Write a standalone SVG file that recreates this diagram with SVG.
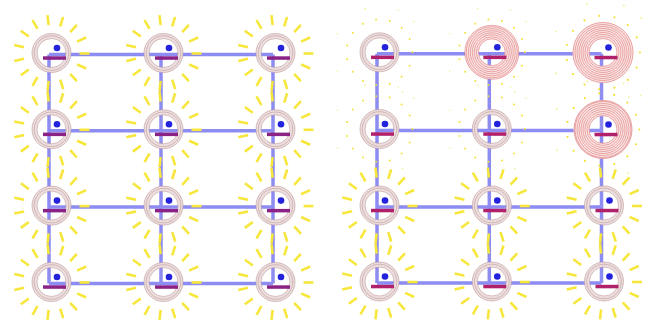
<svg xmlns="http://www.w3.org/2000/svg" xmlns:xlink="http://www.w3.org/1999/xlink" width="655" height="324" viewBox="0 0 655 324">
<style>
.wire{stroke:#1a1ae6;stroke-opacity:0.5;stroke-width:3.5;fill:none;stroke-linecap:butt}
.ray{stroke:#f7e63c;stroke-width:2.6;stroke-linecap:butt}
.spark{fill:#f2e23a}
.hb{fill:none;stroke:#ecdede;stroke-width:5}
.hl{fill:none;stroke:#bf9999;stroke-width:0.8;stroke-opacity:0.75}
.rb{fill:none;stroke:#fae4e4}
.rl{fill:none;stroke:#d85c5c;stroke-width:0.6;stroke-opacity:0.8}
.barL{fill:#8b2387}
.barR{fill:#b0206b}
.dot{fill:#2323dd}
</style>
<defs>
<g id="halo">
<circle class="hb" r="17"/>
<circle class="hl" r="14.5"/>
<circle class="hl" r="17.3"/>
<circle class="hl" r="19.5"/>
</g>
<g id="rays">
<line class="ray" x1="28" y1="0.5" x2="38" y2="0.5"/>
<line class="ray" x1="25.6" y1="11.4" x2="34.7" y2="15.5"/>
<line class="ray" x1="18.7" y1="20.8" x2="25.4" y2="28.2"/>
<line class="ray" x1="8.7" y1="26.6" x2="11.7" y2="36.1"/>
<line class="ray" x1="-2.9" y1="27.8" x2="-4" y2="37.8"/>
<line class="ray" x1="-14" y1="24.2" x2="-19" y2="32.9"/>
<line class="ray" x1="-22.7" y1="16.5" x2="-30.7" y2="22.3"/>
<line class="ray" x1="-27.4" y1="5.8" x2="-37.2" y2="7.9"/>
<line class="ray" x1="-27.4" y1="-5.8" x2="-37.2" y2="-7.9"/>
<line class="ray" x1="-22.7" y1="-16.5" x2="-30.7" y2="-22.3"/>
<line class="ray" x1="-14" y1="-24.2" x2="-19" y2="-32.9"/>
<line class="ray" x1="-2.9" y1="-27.8" x2="-4" y2="-37.8"/>
<line class="ray" x1="8.7" y1="-26.6" x2="11.7" y2="-36.1"/>
<line class="ray" x1="18.7" y1="-20.8" x2="25.4" y2="-28.2"/>
<line class="ray" x1="25.6" y1="-11.4" x2="34.7" y2="-15.5"/>
</g>
<g id="sparks">
<circle class="spark" cx="33" cy="0" r="1"/>
<circle class="spark" cx="30.1" cy="13.4" r="1"/>
<circle class="spark" cx="22.1" cy="24.5" r="1"/>
<circle class="spark" cx="10.2" cy="31.4" r="1"/>
<circle class="spark" cx="-3.4" cy="32.8" r="1"/>
<circle class="spark" cx="-16.5" cy="28.6" r="1"/>
<circle class="spark" cx="-26.7" cy="19.4" r="1"/>
<circle class="spark" cx="-32.3" cy="6.9" r="1"/>
<circle class="spark" cx="-32.3" cy="-6.9" r="1"/>
<circle class="spark" cx="-26.7" cy="-19.4" r="1"/>
<circle class="spark" cx="-16.5" cy="-28.6" r="1"/>
<circle class="spark" cx="-3.4" cy="-32.8" r="1"/>
<circle class="spark" cx="10.2" cy="-31.4" r="1"/>
<circle class="spark" cx="22.1" cy="-24.5" r="1"/>
<circle class="spark" cx="30.1" cy="-13.4" r="1"/>
<circle class="spark" cx="23" cy="39.8" r="0.8" opacity="0.6"/>
<circle class="spark" cx="-42" cy="18.7" r="0.8" opacity="0.6"/>
<circle class="spark" cx="-42" cy="-18.7" r="0.8" opacity="0.6"/>
<circle class="spark" cx="-14.2" cy="-43.7" r="0.8" opacity="0.6"/>
<circle class="spark" cx="18.7" cy="-42" r="0.8" opacity="0.6"/>
<circle class="spark" cx="34.2" cy="-30.8" r="0.8" opacity="0.6"/>
</g>
<g id="lampL">
<rect class="barL" x="-8.5" y="3.3" width="23" height="3.5"/>
<circle class="dot" cx="5.5" cy="-5" r="3.3"/>
</g>
<g id="lampR">
<rect class="barR" x="-8.5" y="3.3" width="23" height="3.5"/>
<circle class="dot" cx="5.5" cy="-5" r="3.3"/>
</g>
</defs>
<rect width="655" height="324" fill="#ffffff"/>

<g id="connectors">
<path class="wire" d="M49,54.5H273M49,130.8H273M49,207.1H273M49,283.5H273M49,54.5V283.5M161,54.5V283.5M273,54.5V283.5"/>
<path class="wire" d="M377,53.8H601.5M377,130.5H601.5M377,207H601.5M377,283H601.5M377,53.8V283M489.3,53.8V283M601.5,53.8V283"/>
</g>

<!-- left panel -->
<g id="L-r0c0" transform="translate(51.5,53)"><use href="#halo"/><use href="#rays"/><use href="#lampL"/></g>
<g id="L-r0c1" transform="translate(163.5,53)"><use href="#halo"/><use href="#rays"/><use href="#lampL"/></g>
<g id="L-r0c2" transform="translate(275.5,53)"><use href="#halo"/><use href="#rays"/><use href="#lampL"/></g>
<g id="L-r1c0" transform="translate(51.5,129.3)"><use href="#halo"/><use href="#rays"/><use href="#lampL"/></g>
<g id="L-r1c1" transform="translate(163.5,129.3)"><use href="#halo"/><use href="#rays"/><use href="#lampL"/></g>
<g id="L-r1c2" transform="translate(275.5,129.3)"><use href="#halo"/><use href="#rays"/><use href="#lampL"/></g>
<g id="L-r2c0" transform="translate(51.5,205.6)"><use href="#halo"/><use href="#rays"/><use href="#lampL"/></g>
<g id="L-r2c1" transform="translate(163.5,205.6)"><use href="#halo"/><use href="#rays"/><use href="#lampL"/></g>
<g id="L-r2c2" transform="translate(275.5,205.6)"><use href="#halo"/><use href="#rays"/><use href="#lampL"/></g>
<g id="L-r3c0" transform="translate(51.5,282)"><use href="#halo"/><use href="#rays"/><use href="#lampL"/></g>
<g id="L-r3c1" transform="translate(163.5,282)"><use href="#halo"/><use href="#rays"/><use href="#lampL"/></g>
<g id="L-r3c2" transform="translate(275.5,282)"><use href="#halo"/><use href="#rays"/><use href="#lampL"/></g>

<!-- right panel -->
<g id="R-r0c0" transform="translate(379.5,52.3)"><use href="#halo"/><use href="#sparks"/><use href="#lampR"/></g>
<g id="R-r0c1" transform="translate(491.8,52.3)">
<circle class="rb" r="20" stroke-width="14"/>
<circle class="rl" r="13.5"/><circle class="rl" r="15.5"/><circle class="rl" r="17.5"/><circle class="rl" r="19.5"/><circle class="rl" r="21.5"/><circle class="rl" r="23.5"/><circle class="rl" r="25.5"/><circle class="rl" r="27"/>
<use href="#sparks"/><use href="#lampR"/></g>
<g id="R-r0c2" transform="translate(603,52.5)">
<circle class="rb" r="22" stroke-width="17"/>
<circle class="rl" r="14"/><circle class="rl" r="16"/><circle class="rl" r="18"/><circle class="rl" r="20"/><circle class="rl" r="22"/><circle class="rl" r="24"/><circle class="rl" r="26"/><circle class="rl" r="28"/><circle class="rl" r="30"/>
<g transform="scale(1.12)"><use href="#sparks"/></g><use href="#lampR"/></g>
<g id="R-r1c0" transform="translate(379.5,129)"><use href="#halo"/><use href="#sparks"/><use href="#lampR"/></g>
<g id="R-r1c1" transform="translate(491.8,129)"><use href="#halo"/><use href="#sparks"/><use href="#lampR"/></g>
<g id="R-r1c2" transform="translate(603,129.5)">
<circle class="rb" r="21.5" stroke-width="16"/>
<circle class="rl" r="14"/><circle class="rl" r="16"/><circle class="rl" r="18"/><circle class="rl" r="20"/><circle class="rl" r="22"/><circle class="rl" r="24"/><circle class="rl" r="26"/><circle class="rl" r="28"/><circle class="rl" r="29"/>
<g transform="scale(1.1)"><use href="#sparks"/></g><use href="#lampR"/></g>
<g id="R-r2c0" transform="translate(379.5,205.5)"><use href="#halo"/><use href="#rays"/><use href="#lampR"/></g>
<g id="R-r2c1" transform="translate(491.8,205.5)"><use href="#halo"/><use href="#rays"/><use href="#lampR"/></g>
<g id="R-r2c2" transform="translate(604,205.5)"><use href="#halo"/><use href="#rays"/><use href="#lampR"/></g>
<g id="R-r3c0" transform="translate(379.5,281.5)"><use href="#halo"/><use href="#rays"/><use href="#lampR"/></g>
<g id="R-r3c1" transform="translate(491.8,281.5)"><use href="#halo"/><use href="#rays"/><use href="#lampR"/></g>
<g id="R-r3c2" transform="translate(604,281.5)"><use href="#halo"/><use href="#rays"/><use href="#lampR"/></g>
</svg>
